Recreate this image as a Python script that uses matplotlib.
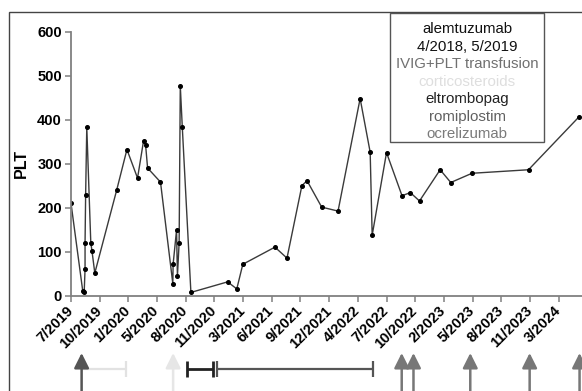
import matplotlib
matplotlib.use("Agg")
import matplotlib.pyplot as plt
from matplotlib.patches import Rectangle

plt.rcParams['font.family'] = ['Liberation Sans', 'DejaVu Sans']

# дни от 7/2019 и значения PLT
days = [0, 41, 46, 49, 49, 51, 55, 69, 73, 83, 159, 195, 232, 253, 260, 267, 312,
        355, 356, 368, 371, 377, 381, 388, 418, 546, 578, 599, 711, 753, 805, 823,
        874, 931, 1008, 1043, 1050, 1100, 1154, 1183, 1215, 1287, 1324, 1398, 1595, 1772]
plt_vals = [210, 10, 8, 60, 120, 228, 383, 120, 102, 51, 239, 332, 267, 352, 343, 290, 258,
            27, 71, 149, 44, 120, 477, 383, 7, 31, 15, 71, 110, 85, 250, 261,
            201, 192, 448, 326, 137, 325, 227, 234, 215, 286, 257, 278, 286, 407]

tick_days = list(range(0, 1800, 100))
tick_labels = ['7/2019', '10/2019', '1/2020', '5/2020', '8/2020', '11/2020', '3/2021',
               '6/2021', '9/2021', '12/2021', '4/2022', '7/2022', '10/2022', '2/2023',
               '5/2023', '8/2023', '11/2023', '3/2024']

# легенда
legend_lines = ['alemtuzumab', '4/2018, 5/2019', 'IVIG+PLT transfusion', 'corticosteroids',
                'eltrombopag', 'romiplostim', 'ocrelizumab']
legend_colors = ['#111111', '#111111', '#707070', '#dedede', '#222222', '#606060', '#7a7a7a']

# стрелки под осью (день, цвет)
arrow_days = [37, 356, 1153, 1194, 1392, 1599, 1773]
arrow_colors = ['#555555', '#e6e6e6', '#777777', '#777777', '#777777', '#777777', '#777777']

# периоды лечения
bar_start = [37, 406, 508]
bar_end = [192, 494, 1053]
bar_colors = ['#e2e2e2', '#222222', '#555555']
bar_left_cap = [False, True, True]

W, H = 582, 391
fig = plt.figure(figsize=(W / 100, H / 100), dpi=100)

x0, x1 = 71, 583
y_top, y_bot = 31.7, 295.5
ax = fig.add_axes([x0 / W, 1 - y_bot / H, (x1 - x0) / W, (y_bot - y_top) / H])
ax.plot(days, plt_vals, color='#3a3a3a', linewidth=1.0, marker='o', markersize=2.6,
        markerfacecolor='black', markeredgecolor='black')
ax.set_xlim(0, 1785)
ax.set_ylim(0, 600)
ax.set_yticks(range(0, 601, 100))
ax.set_xticks(tick_days)
ax.set_xticklabels(tick_labels, rotation=45, ha='right', va='center', rotation_mode='anchor')
for s in ['top', 'right']:
    ax.spines[s].set_visible(False)
for s in ['left', 'bottom']:
    ax.spines[s].set_color('#808080')
    ax.spines[s].set_linewidth(1.3)
ax.tick_params(axis='both', length=4.5, width=1.1, color='#808080', labelsize=10.5, pad=2)
ax.tick_params(axis='x', pad=5)
for lab in ax.get_xticklabels() + ax.get_yticklabels():
    lab.set_fontweight('bold')
ax.set_ylabel('PLT', fontsize=11.5, fontweight='bold', labelpad=6)

# полоса аннотаций
ax2 = fig.add_axes([x0 / W, 0, (x1 - x0) / W, 51 / H], sharex=ax)
ax2.set_ylim(0, 51)
ax2.axis('off')
for d, c in zip(arrow_days, arrow_colors):
    ax2.annotate('', xy=(d, 38), xytext=(d, -5),
                 arrowprops=dict(arrowstyle='-|>,head_length=0.5,head_width=0.25',
                                 color=c, lw=1.8, mutation_scale=18, shrinkA=0, shrinkB=0),
                 annotation_clip=False)
for s, e, c, lc in zip(bar_start, bar_end, bar_colors, bar_left_cap):
    lw = 2.0 if c == '#222222' else 1.6
    ax2.hlines(22, s, e, color=c, linewidth=lw, clip_on=False)
    ax2.vlines(e, 14, 30, color=c, linewidth=lw, clip_on=False)
    if lc:
        ax2.vlines(s, 14, 30, color=c, linewidth=lw, clip_on=False)

# рамка и легенда
fig.patches.append(Rectangle((9 / W, -0.1), 1.2, 1.1 - 12 / H, fill=False,
                             edgecolor='#444444', linewidth=1.0, transform=fig.transFigure))
fig.patches.append(Rectangle((390 / W, 1 - 142 / H), 154 / W, 129 / H, fill=False,
                             edgecolor='#555555', linewidth=1.0, transform=fig.transFigure))
for i, (t, c) in enumerate(zip(legend_lines, legend_colors)):
    fig.text(467 / W, 1 - (33.3 + 17.45 * i) / H, t, color=c, fontsize=10.8,
             ha='center', va='baseline')

fig.savefig('out.png', dpi=100)
